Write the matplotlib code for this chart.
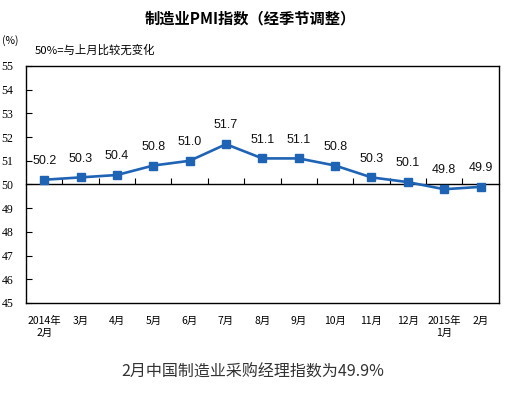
import matplotlib.pyplot as plt
import numpy as np

# PMI data, Feb 2014 - Feb 2015
months = ["2014年\n2月", "3月", "4月", "5月", "6月", "7月", "8月",
          "9月", "10月", "11月", "12月", "2015年\n1月", "2月"]
pmi = [50.2, 50.3, 50.4, 50.8, 51.0, 51.7, 51.1, 51.1, 50.8, 50.3, 50.1, 49.8, 49.9]
yticks = [45, 46, 47, 48, 49, 50, 51, 52, 53, 54, 55]

plt.rcParams['font.family'] = ['Liberation Sans', 'Noto Sans CJK SC', 'DejaVu Sans']

fig = plt.figure(figsize=(5.11, 3.94), dpi=100)
ax = fig.add_axes([0.051, 0.231, 0.925, 0.6015])

x = np.arange(len(pmi))
blue = '#1f63b5'
ax.plot(x, pmi, color=blue, lw=1.9, marker='s', markersize=5.2, zorder=3)

for xi, v in zip(x, pmi):
    ax.annotate("%.1f" % v, (xi, v), xytext=(0, 13.5), textcoords='offset points',
                ha='center', va='center', fontsize=9, color='#111111')

ax.set_xlim(-0.5, len(pmi) - 0.5)
ax.set_ylim(45, 55)

# y axis
ax.set_yticks(yticks)
ax.set_yticklabels([str(t) for t in yticks], fontsize=8.5, family=['Liberation Serif'])
ax.tick_params(axis='y', direction='in', length=4, width=0.8, pad=9)

# x axis sits on the 50 line, with category separators
ax.spines['bottom'].set_position(('data', 50))
ax.spines['bottom'].set_linewidth(1.0)
ax.set_xticks(np.arange(0.5, len(pmi) - 1, 1.0))
ax.set_xticklabels([])
ax.tick_params(axis='x', direction='in', length=4, width=0.8)

for s in ['left', 'top', 'right']:
    ax.spines[s].set_linewidth(1.0)

# bottom frame with month labels
sec = ax.secondary_xaxis(0)
sec.set_xticks(x)
sec.set_xticklabels(months, fontsize=7.5, family=['Noto Sans CJK SC'], linespacing=1.25)
sec.tick_params(axis='x', length=0, pad=9)
sec.spines['bottom'].set_linewidth(1.0)

fig.text(0.49, 0.953, "制造业PMI指数（经季节调整）", ha='center', va='center',
         fontsize=11, fontweight='bold', family=['Noto Sans CJK SC'])
fig.text(0.004, 0.898, "(%)", ha='left', va='center', fontsize=7.5, family=['Noto Sans CJK SC'])
fig.text(0.068, 0.872, "50%=与上月比较无变化", ha='left', va='center', fontsize=8.2,
         family=['Noto Sans CJK SC'])
fig.text(0.495, 0.055, "2月中国制造业采购经理指数为49.9%", ha='center', va='center',
         fontsize=11.5, color='#333333', family=['Noto Sans CJK SC'])

fig.savefig("out.png", dpi=100)
